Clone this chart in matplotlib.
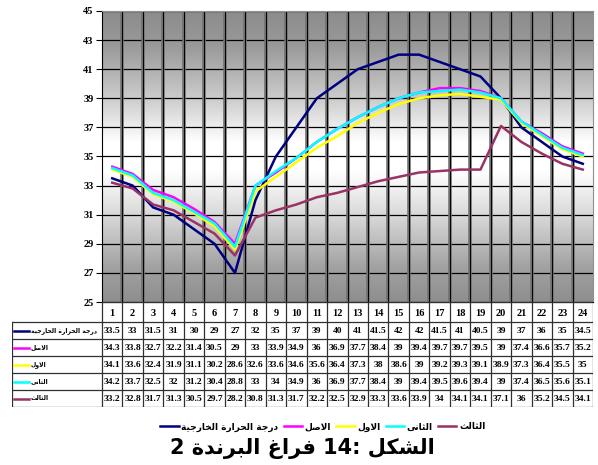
import numpy as np
import matplotlib.pyplot as plt
from matplotlib.colors import LinearSegmentedColormap
from matplotlib.lines import Line2D

# ساعات اليوم
hours = list(range(1, 25))

outside = [33.5, 33, 31.5, 31, 30, 29, 27, 32, 35, 37, 39, 40, 41, 41.5, 42, 42, 41.5, 41, 40.5, 39, 37, 36, 35, 34.5]
asl = [34.3, 33.8, 32.7, 32.2, 31.4, 30.5, 29, 33, 33.9, 34.9, 36, 36.9, 37.7, 38.4, 39, 39.4, 39.7, 39.7, 39.5, 39, 37.4, 36.6, 35.7, 35.2]
awal = [34.1, 33.6, 32.4, 31.9, 31.1, 30.2, 28.6, 32.6, 33.6, 34.6, 35.6, 36.4, 37.3, 38, 38.6, 39, 39.2, 39.3, 39.1, 38.9, 37.3, 36.4, 35.5, 35]
thani = [34.2, 33.7, 32.5, 32, 31.2, 30.4, 28.8, 33, 34, 34.9, 36, 36.9, 37.7, 38.4, 39, 39.4, 39.5, 39.6, 39.4, 39, 37.4, 36.5, 35.6, 35.1]
thalith = [33.2, 32.8, 31.7, 31.3, 30.5, 29.7, 28.2, 30.8, 31.3, 31.7, 32.2, 32.5, 32.9, 33.3, 33.6, 33.9, 34, 34.1, 34.1, 37.1, 36, 35.2, 34.5, 34.1]

names = ['درجة الحرارة الخارجية', 'الاصل', 'الاول', 'الثانى', 'الثالث']
series = [outside, asl, awal, thani, thalith]
colors = ['#000080', '#ff00ff', '#ffff00', '#00ffff', '#993366']

yticks = list(range(25, 46, 2))

# تشكيل الحروف العربية (matplotlib لا يربط الحروف)
DUAL = {'ب': 0xFE8F, 'ت': 0xFE95, 'ث': 0xFE99, 'ج': 0xFE9D, 'ح': 0xFEA1, 'خ': 0xFEA5,
        'س': 0xFEB1, 'ش': 0xFEB5, 'ص': 0xFEB9, 'ض': 0xFEBD, 'ط': 0xFEC1, 'ظ': 0xFEC5,
        'ع': 0xFEC9, 'غ': 0xFECD, 'ف': 0xFED1, 'ق': 0xFED5, 'ك': 0xFED9, 'ل': 0xFEDD,
        'م': 0xFEE1, 'ن': 0xFEE5, 'ه': 0xFEE9, 'ي': 0xFEF1}
RIGHT = {'ا': 0xFE8D, 'د': 0xFEA9, 'ذ': 0xFEAB, 'ر': 0xFEAD, 'ز': 0xFEAF, 'و': 0xFEED,
         'ة': 0xFE93, 'ى': 0xFEEF}


def shape(text):
    out = []
    prev_joins = False
    i = 0
    while i < len(text):
        c = text[i]
        nxt = text[i + 1] if i + 1 < len(text) else ''
        if c == 'ل' and nxt == 'ا':
            out.append(chr(0xFEFC if prev_joins else 0xFEFB))
            prev_joins = False
            i += 2
            continue
        if c in RIGHT:
            out.append(chr(RIGHT[c] + 1 if prev_joins else RIGHT[c]))
            prev_joins = False
        elif c in DUAL:
            b = DUAL[c]
            jn = nxt in DUAL or nxt in RIGHT
            if prev_joins and jn:
                g = b + 3
            elif prev_joins:
                g = b + 1
            elif jn:
                g = b + 2
            else:
                g = b
            out.append(chr(g))
            prev_joins = jn
        else:
            out.append(c)
            prev_joins = False
        i += 1
    return ''.join(reversed(out))


num_font = ['Liberation Serif', 'DejaVu Serif']
ar_font = ['DejaVu Sans']

W, H = 598, 465
fig = plt.figure(figsize=(W / 100, H / 100), dpi=100)

px_left, px_right, px_top, px_bot = 102, 593, 11, 302
ax = fig.add_axes([px_left / W, 1 - px_bot / H, (px_right - px_left) / W, (px_bot - px_top) / H])

# خلفية متدرجة
cmap = LinearSegmentedColormap.from_list('bg', [(0, '#8c8c8c'), (0.12, '#9a9a9a'), (0.3, '#cccccc'),
                                                (0.45, '#ffffff'), (0.55, '#ffffff'), (0.72, '#d4d4d4'),
                                                (0.88, '#a2a2a2'), (1, '#8e8e8e')])
grad = np.linspace(0, 1, 256).reshape(-1, 1)
ax.imshow(grad, extent=(0.5, 24.5, 25, 45), aspect='auto', cmap=cmap, zorder=0, origin='upper')

for y in yticks:
    ax.axhline(y, color='black', lw=0.9, zorder=1)
for x in np.arange(1.5, 24.5, 1):
    ax.axvline(x, color='#707070', lw=2.6, zorder=1)
    ax.axvline(x, color='black', lw=0.7, zorder=1)

for vals, c in zip(series, colors):
    ax.plot(hours, vals, color=c, lw=1.8, zorder=3)

ax.set_xlim(0.5, 24.5)
ax.set_ylim(25, 45)
ax.set_xticks([])
ax.set_yticks(yticks)
ax.set_yticklabels([str(v) for v in yticks], fontfamily=num_font, fontweight='bold', fontsize=7.5)
ax.tick_params(axis='y', direction='out', length=4, width=0.8, pad=2)
for s in ['top', 'right']:
    ax.spines[s].set_color('#909090')
ax.spines['left'].set_color('black')
ax.spines['bottom'].set_color('black')

# جدول البيانات
tb_left, tb_bot = 12, 407
tax = fig.add_axes([tb_left / W, 1 - tb_bot / H, (px_right - tb_left) / W, (tb_bot - px_bot) / H])
colw = (px_right - px_left) / 24
x0 = 0.5 - (px_left - tb_left) / colw
tax.set_xlim(x0, 24.5)
tax.set_ylim(tb_bot - px_bot, 0)
tax.axis('off')
hdr = 20
rowh = (tb_bot - px_bot - hdr) / len(series)

lc = '#303030'
tax.plot([0.5, 24.5], [0, 0], color=lc, lw=0.9)
tax.plot([x0, 24.5], [hdr, hdr], color=lc, lw=0.9)
for k in range(1, len(series) + 1):
    tax.plot([x0, 24.5], [hdr + k * rowh] * 2, color=lc, lw=0.9)
tax.plot([x0, x0], [hdr, hdr + len(series) * rowh], color=lc, lw=0.9)
for x in np.arange(0.5, 25, 1):
    tax.plot([x, x], [0, hdr + len(series) * rowh], color=lc, lw=0.9)

for h in hours:
    tax.text(h, hdr / 2 + 1, str(h), ha='center', va='center', fontfamily=num_font,
             fontweight='bold', fontsize=7.5)

for k, (name, vals, c) in enumerate(zip(names, series, colors)):
    yc = hdr + (k + 0.5) * rowh
    tax.plot([x0 + 0.1, x0 + 0.85], [yc, yc], color=c, lw=1.8)
    tax.text(x0 + 0.92, yc, shape(name), ha='left', va='center', fontfamily=ar_font,
             fontweight='bold', fontsize=4.4)
    for h, v in zip(hours, vals):
        tax.text(h, yc + 0.5, f'{v:g}', ha='center', va='center', fontfamily=num_font,
                 fontweight='bold', fontsize=6.8)

handles = [Line2D([], [], color=c, lw=1.8) for c in colors]
fig.legend(handles, [shape(n) for n in names], loc='center', ncol=5, frameon=False,
           bbox_to_anchor=(0.54, 1 - 427 / H), prop={'family': ar_font, 'weight': 'bold', 'size': 6.5},
           handlelength=2.0, handletextpad=0.3, columnspacing=0.6)

title = '2 ' + shape('البرندة') + ' ' + shape('فراغ') + ' 14: ' + shape('الشكل')
fig.text(0.505, 1 - 448 / H, title, ha='center', va='center', fontfamily=['DejaVu Sans'],
         fontweight='bold', fontsize=15)

fig.savefig('out.png', dpi=100)
